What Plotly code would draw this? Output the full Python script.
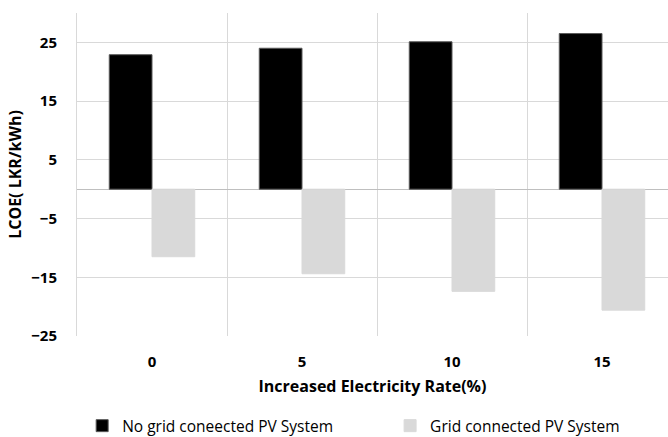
import plotly.graph_objects as go

rates = ["0", "5", "10", "15"]
no_grid = [22.9, 24.0, 25.1, 26.5]
grid_connected = [-11.5, -14.4, -17.4, -20.6]
y_ticks = [-25, -15, -5, 5, 15, 25]

font = "'Open Sans', sans-serif"

fig = go.Figure()
fig.add_trace(go.Bar(
    x=rates, y=no_grid, name="No grid coneected PV System",
    marker=dict(color="#000000", line=dict(color="#595959", width=1)),
    legend="legend",
))
fig.add_trace(go.Bar(
    x=rates, y=grid_connected, name="Grid connected PV System",
    marker=dict(color="#d9d9d9", line=dict(color="#d9d9d9", width=1)),
    legend="legend2",
))

legend_style = dict(
    orientation="h", xref="container", yref="container",
    xanchor="left", y=0.025, yanchor="middle",
    font=dict(size=15.5, color="#000000"),
)

fig.update_layout(
    width=668, height=437,
    margin=dict(l=77, r=0, t=13, b=101),
    paper_bgcolor="white", plot_bgcolor="white",
    barmode="group", bargap=0.43, bargroupgap=0,
    font=dict(family=font, color="#000000"),
    showlegend=True,
    legend=dict(x=0.123, **legend_style),
    legend2=dict(x=0.584, **legend_style),
    xaxis=dict(
        type="category", range=[-0.5, 3.44],
        tickson="boundaries", showgrid=True, gridcolor="#d9d9d9",
        ticks="", ticklabelstandoff=15,
        tickfont=dict(size=15, family=font, weight="bold"),
        title=dict(text="<b>Increased Electricity Rate(%)</b>",
                   font=dict(size=16), standoff=10),
        showline=False,
    ),
    yaxis=dict(
        range=[-25, 30], tickvals=y_ticks,
        showgrid=True, gridcolor="#d9d9d9",
        zeroline=True, zerolinecolor="#bfbfbf", zerolinewidth=1,
        showline=True, linecolor="#d9d9d9",
        ticks="", ticklabelstandoff=16,
        tickfont=dict(size=15, family=font, weight="bold"),
        title=dict(text="<b>LCOE( LKR/kWh)</b>", font=dict(size=16), standoff=5),
    ),
)

fig.write_html("out.html", config={"displayModeBar": False},
               post_script="document.body.style.margin='0px';")
